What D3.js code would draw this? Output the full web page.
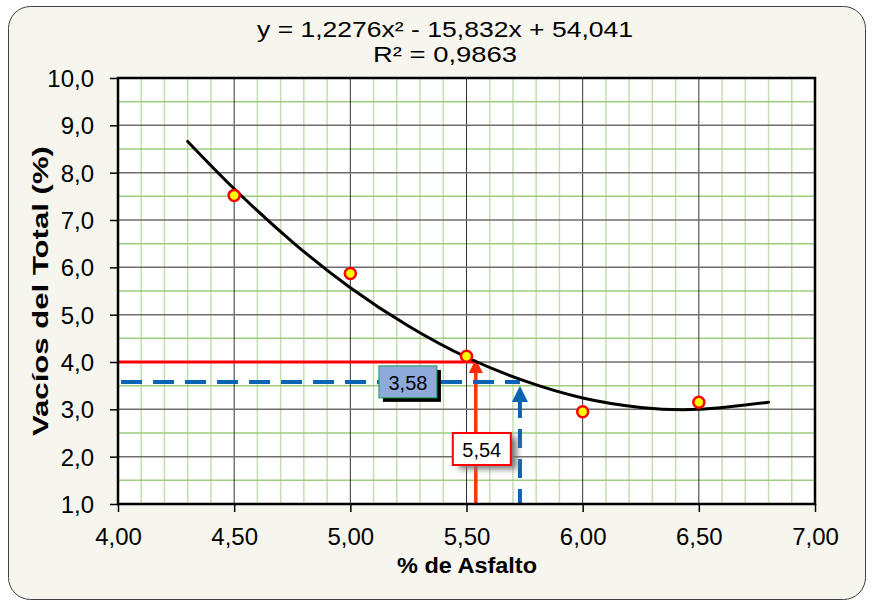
<!DOCTYPE html>
<html>
<head>
<meta charset="utf-8">
<script src="https://cdn.jsdelivr.net/npm/d3@7"></script>
<style>
  body { margin:0; background:#fff; }
  text { font-family: "Liberation Sans", Arial, sans-serif; }
</style>
</head>
<body>
<script>
// measured points
var asfalto = [4.5, 5.0, 5.5, 6.0, 6.5];
var vacios  = [7.52, 5.87, 4.12, 2.95, 3.15];

// trendline
var curveX = [4.3, 4.5, 4.75, 5.0, 5.25, 5.5, 5.75, 6.0, 6.25, 6.5, 6.8];
var curveY = [8.66, 7.66, 6.54, 5.57, 4.76, 4.10, 3.60, 3.24, 3.04, 3.00, 3.15];

var xTicks = [4.0, 4.5, 5.0, 5.5, 6.0, 6.5, 7.0];
var yTicks = [1, 2, 3, 4, 5, 6, 7, 8, 9, 10];

// guide lines
var targetVacios = 4.0, targetAsfalto = 5.54;
var readAsfalto = 5.73, readVacios = 3.58;

var eqLine1 = "y = 1,2276x\u00B2 - 15,832x + 54,041";
var eqLine2 = "R\u00B2 = 0,9863";

var W = 872, H = 607;
var margin = {top:78, left:118, bottom:103, right:57};
var width = W - margin.left - margin.right;
var height = H - margin.top - margin.bottom;

var loc = d3.formatLocale({decimal:",", thousands:".", grouping:[3], currency:["",""]});

var svg = d3.select("body").append("svg").attr("width", W).attr("height", H);

var defs = svg.append("defs");
var blur = defs.append("filter").attr("id","soft").attr("x","-30%").attr("y","-30%").attr("width","170%").attr("height","170%");
blur.append("feGaussianBlur").attr("stdDeviation", 3);

var arrowRed = defs.append("marker").attr("id","arrRed").attr("viewBox","0 0 10 10")
  .attr("refX",5).attr("refY",5).attr("markerWidth",4).attr("markerHeight",4).attr("orient","auto")
arrowRed.append("path").attr("d","M0,0 L10,5 L0,10 z").attr("fill","#ff2a00");
var arrowBlue = defs.append("marker").attr("id","arrBlue").attr("viewBox","0 0 10 10")
  .attr("refX",5).attr("refY",5).attr("markerWidth",4).attr("markerHeight",4).attr("orient","auto")
arrowBlue.append("path").attr("d","M0,0 L10,5 L0,10 z").attr("fill","#0a64b4");

// chart frame
svg.append("rect").attr("x",8.5).attr("y",6.5).attr("width",857).attr("height",593)
   .attr("rx",22).attr("fill","#f6f6ef").attr("stroke","#404040").attr("stroke-width",1);

var g = svg.append("g").attr("transform","translate("+margin.left+","+margin.top+")");

var x = d3.scaleLinear().domain([4, 7]).range([0, width]);
var y = d3.scaleLinear().domain([1, 10]).range([height, 0]);

g.append("rect").attr("width",width).attr("height",height).attr("fill","#fff");

// minor grid
g.append("g").selectAll("line").data(d3.range(41, 70).map(function(d){return d/10;}).filter(function(d){return Math.round(d*10)%5!==0;}))
  .enter().append("line")
  .attr("x1",function(d){return x(d);}).attr("x2",function(d){return x(d);})
  .attr("y1",0).attr("y2",height).attr("stroke","#c3deb0").attr("stroke-width",1.5);
g.append("g").selectAll("line").data(d3.range(1.5, 10, 1))
  .enter().append("line")
  .attr("y1",function(d){return y(d);}).attr("y2",function(d){return y(d);})
  .attr("x1",0).attr("x2",width).attr("stroke","#9dcc7f").attr("stroke-width",1.5);

// major grid
g.append("g").selectAll("line").data(xTicks.slice(1, -1))
  .enter().append("line")
  .attr("x1",function(d){return x(d);}).attr("x2",function(d){return x(d);})
  .attr("y1",0).attr("y2",height).attr("stroke","#333").attr("stroke-width",1);
g.append("g").selectAll("line").data(yTicks.slice(1, -1))
  .enter().append("line")
  .attr("y1",function(d){return y(d);}).attr("y2",function(d){return y(d);})
  .attr("x1",0).attr("x2",width).attr("stroke","#6e6e6e").attr("stroke-width",1.5);

// red guide: 4% voids -> asphalt
g.append("line").attr("x1",0).attr("x2",x(targetAsfalto)).attr("y1",y(targetVacios)).attr("y2",y(targetVacios))
  .attr("stroke","#ff0000").attr("stroke-width",3);
g.append("line").attr("x1",x(targetAsfalto)).attr("x2",x(targetAsfalto)).attr("y1",height).attr("y2",y(targetVacios)+4)
  .attr("stroke","#ff3300").attr("stroke-width",3.5).attr("marker-end","url(#arrRed)");

// blue dashed guide
g.append("line").attr("x1",3).attr("x2",x(readAsfalto)).attr("y1",y(readVacios)).attr("y2",y(readVacios))
  .attr("stroke","#0a64b4").attr("stroke-width",4).attr("stroke-dasharray","21,11");
g.append("line").attr("x1",x(readAsfalto)).attr("x2",x(readAsfalto)).attr("y1",height).attr("y2",y(readVacios)+12)
  .attr("stroke","#0a64b4").attr("stroke-width",4).attr("stroke-dasharray","19,11").attr("stroke-dashoffset",4)
  .attr("marker-end","url(#arrBlue)");

// trendline
var pts = curveX.map(function(d, i){ return [d, curveY[i]]; });
g.append("path").datum(pts)
  .attr("d", d3.line().x(function(d){return x(d[0]);}).y(function(d){return y(d[1]);}).curve(d3.curveNatural))
  .attr("fill","none").attr("stroke","#000").attr("stroke-width",3).attr("stroke-linecap","round");

// points
g.selectAll("circle.pt").data(asfalto).enter().append("circle").attr("class","pt")
  .attr("cx",function(d){return x(d);}).attr("cy",function(d,i){return y(vacios[i]);})
  .attr("r",5.5).attr("fill","#ffff00").attr("stroke","#ff0000").attr("stroke-width",2.5);

// plot border
g.append("rect").attr("width",width).attr("height",height).attr("fill","none")
  .attr("stroke","#000").attr("stroke-width",2.5);

// axes
var xAxis = d3.axisBottom(x).tickValues(xTicks).tickSize(8).tickFormat(loc.format(".2f"));
var xg = g.append("g").attr("transform","translate(0,"+height+")").call(xAxis);
var yAxis = d3.axisLeft(y).tickValues(yTicks).tickSize(8).tickFormat(loc.format(".1f"));
var yg = g.append("g").call(yAxis);
[xg, yg].forEach(function(a){
  a.select(".domain").remove();
  a.selectAll("line").attr("stroke","#000").attr("stroke-width",1.5);
  a.selectAll("text").attr("font-size","24px").attr("fill","#000")
   .style("font-family","'Liberation Sans', Arial, sans-serif");
});
xg.selectAll("text").attr("y",41).attr("dy",0);
yg.selectAll("text").attr("x",-24).attr("dy","0.36em");

// labels
svg.append("text").attr("x", 467).attr("y", 573)
  .attr("text-anchor","middle").attr("font-size","22px").attr("font-weight","bold")
  .attr("textLength",140).attr("lengthAdjust","spacingAndGlyphs").text("% de Asfalto");
svg.append("text").attr("transform","translate(48,"+(margin.top + height/2)+") rotate(-90)")
  .attr("text-anchor","middle").attr("font-size","22px").attr("font-weight","bold")
  .attr("textLength",290).attr("lengthAdjust","spacingAndGlyphs").text("Vacíos del Total (%)");

svg.append("text").attr("x",445).attr("y",37).attr("text-anchor","middle").attr("font-size","22px")
  .attr("textLength",376).attr("lengthAdjust","spacingAndGlyphs").text(eqLine1);
svg.append("text").attr("x",445).attr("y",62).attr("text-anchor","middle").attr("font-size","22px")
  .attr("textLength",144).attr("lengthAdjust","spacingAndGlyphs").text(eqLine2);

// value boxes
var bx = x(readAsfalto) - 141, by = y(readVacios) - 16;
g.append("rect").attr("x",bx+4).attr("y",by+4).attr("width",58).attr("height",32).attr("fill","#000");
g.append("rect").attr("x",bx).attr("y",by).attr("width",58).attr("height",32)
  .attr("fill","#8eaadb").attr("stroke","#1a9a50").attr("stroke-width",1);
g.append("text").attr("x",bx+29).attr("y",by+24).attr("text-anchor","middle").attr("font-size","20px").text(loc.format(".2f")(readVacios));

var cx0 = x(targetAsfalto) - 23, cy0 = y(2.5);
g.append("rect").attr("x",cx0+6).attr("y",cy0+4).attr("width",58).attr("height",32).attr("fill","#777").attr("filter","url(#soft)");
g.append("rect").attr("x",cx0).attr("y",cy0).attr("width",58).attr("height",32)
  .attr("fill","#fff").attr("stroke","#ff0000").attr("stroke-width",2);
g.append("text").attr("x",cx0+29).attr("y",cy0+24).attr("text-anchor","middle").attr("font-size","20px").text(loc.format(".2f")(targetAsfalto));
</script>
</body>
</html>
